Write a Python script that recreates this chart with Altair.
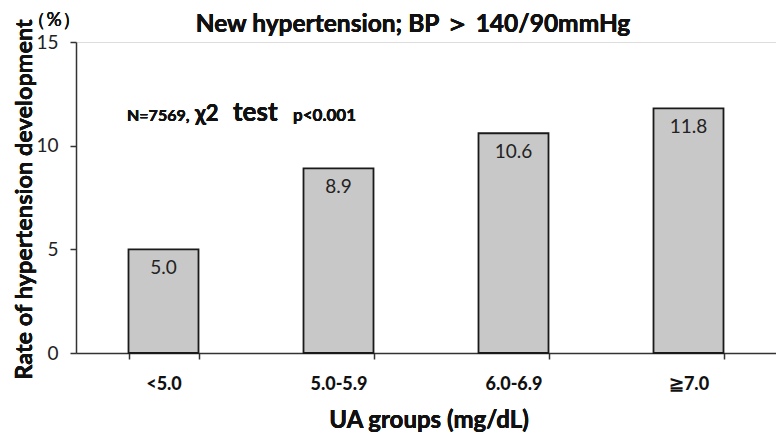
import altair as alt
import pandas as pd

groups = ["<5.0", "5.0-5.9", "6.0-6.9", "≧7.0"]
rates = [5.0, 8.9, 10.6, 11.8]
labels = ["5.0", "8.9", "10.6", "11.8"]

df = pd.DataFrame({"group": groups, "rate": rates, "label": labels})

W, H = 700, 311
FONT = "Lato"

yscale = alt.Scale(domain=[0, 15], nice=False)

xenc = alt.X(
    "group:N",
    sort=groups,
    title=None,
    scale=alt.Scale(paddingInner=0.6, paddingOuter=0.3),
    axis=alt.Axis(
        labelAngle=0, labelFontSize=18, labelFontWeight=900, labelColor="#111",
        labelPadding=16, tickBand="extent", tickSize=6, tickColor="#333",
        domainColor="#333", domainWidth=1.5, tickWidth=1.5, labelFont=FONT,
    ),
)
yenc = alt.Y(
    "rate:Q",
    title=None,
    scale=yscale,
    axis=alt.Axis(
        values=[0, 5, 10, 15], grid=False, labelFontSize=19, labelColor="#222",
        labelPadding=12, tickSize=6, tickColor="#333", domainColor="#333",
        domainWidth=1.5, tickWidth=1.5, labelFont=FONT,
    ),
)

bars = alt.Chart(df).mark_bar(
    color="#c8c8c8", stroke="#1a1a1a", strokeWidth=1.8
).encode(x=xenc, y=yenc)

vals = alt.Chart(df).mark_text(
    baseline="alphabetic", dy=25, fontSize=19, color="#222", font=FONT
).encode(x=alt.X("group:N", sort=groups), y=alt.Y("rate:Q", scale=yscale), text="label:N")


def note(txt, x, y, size, weight="bold", align="left", angle=0, baseline="alphabetic"):
    return alt.Chart(df).mark_text(
        fontSize=size, fontWeight=weight, align=align, baseline=baseline,
        font=FONT, color="#111", angle=angle
    ).encode(x=alt.value(x), y=alt.value(y), text=alt.value(txt))


title = note("New hypertension; BP ＞ 140/90mmHg", 337, -10, 24.5, align="center")
pct = note("（%）", -22, -22, 19, weight="normal", align="center", baseline="middle")
ytitle = note("Rate of hypertension development", -51, H / 2 + 2, 23.5, align="center",
              angle=270, baseline="middle")
xtitle = note("UA groups (mg/dL)", 353, H + 75, 24, align="center")
n1 = note("N=7569,", 51, 79, 16)
n2 = note("χ2", 119, 79, 22)
n3 = note("test", 157, 79, 26)
n4 = note("p<0.001", 217, 79, 17)

chart = alt.layer(bars, vals, title, pct, ytitle, xtitle, n1, n2, n3, n4).properties(
    width=W, height=H,
    autosize=alt.AutoSizeParams(type="none"),
    padding={"left": 68, "top": 34, "right": 0, "bottom": 87},
).configure_view(stroke=None).configure(background="white")

chart.save("out.html", embed_options={"renderer": "svg", "actions": False})
